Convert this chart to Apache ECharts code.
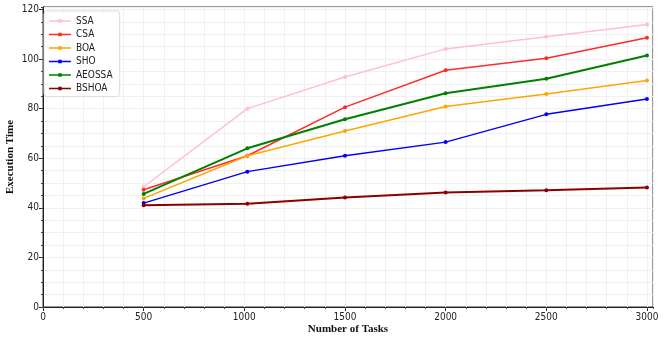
<!DOCTYPE html>
<html>
<head>
<meta charset="utf-8">
<script src="https://cdn.jsdelivr.net/npm/echarts@6/dist/echarts.min.js"></script>
<style>html,body{margin:0;padding:0;background:#fff}#c{width:665px;height:343px}</style>
</head>
<body>
<div id="c"></div>
<script>
var tasks = [500, 1015, 1500, 2000, 2500, 3000];
var SSA    = [48.5, 80.0, 92.8, 104.1, 109.0, 113.9];
var CSA    = [47.3, 61.0, 80.6, 95.5, 100.3, 108.6];
var BOA    = [43.8, 61.0, 71.0, 80.9, 85.9, 91.4];
var SHO    = [41.9, 54.6, 61.0, 66.5, 77.7, 83.9];
var AEOSSA = [45.6, 64.0, 75.7, 86.2, 92.1, 101.4];
var BSHOA  = [41.0, 41.6, 44.2, 46.2, 47.1, 48.2];
var names = ['SSA', 'CSA', 'BOA', 'SHO', 'AEOSSA', 'BSHOA'];
var values = [SSA, CSA, BOA, SHO, AEOSSA, BSHOA];
var colors = ['#ffc0cb', '#ff2a2a', '#ffa500', '#0000ff', '#008000', '#8b0000'];
var widths = [1.5, 1.5, 1.5, 1.5, 2, 2];

function pairs(v) { return tasks.map(function (t, i) { return [t, v[i]]; }); }

var chart = echarts.init(document.getElementById('c'), null, {renderer: 'canvas'});
var labelFont = {fontFamily: 'DejaVu Sans Condensed', fontSize: 10, color: '#222'};
var nameFont = {fontFamily: 'Liberation Serif', fontWeight: 'bold', fontSize: 11, color: '#111'};
var plain = function (v) { return String(v); };
var legendIcon = 'path://M0,4.2L22,4.2L22,5.8L0,5.8Z M9.3,3.3L12.7,3.3L12.7,6.7L9.3,6.7Z M0,3L0.01,3L0.01,3.01Z M0,7L0.01,7L0.01,7.01Z';

chart.setOption({
  animation: false,
  backgroundColor: '#fff',
  grid: {left: 43, right: 12, top: 7, bottom: 36, show: true, borderColor: '#333', borderWidth: 1,
         containLabel: false, outerBoundsMode: 'none'},
  legend: {
    orient: 'vertical', left: 44, top: 11,
    data: names.map(function (n) { return {name: n, icon: legendIcon}; }),
    itemWidth: 22, itemHeight: 4, itemGap: 3.5,
    padding: [5, 7, 3, 5],
    borderColor: '#ddd', borderWidth: 1, borderRadius: 3,
    backgroundColor: 'rgba(255,255,255,0.9)',
    textStyle: {fontFamily: 'DejaVu Sans Condensed', fontSize: 10, color: '#222', padding: [0, 0, 0, 0]}
  },
  xAxis: [{
    type: 'value', min: 0, max: 3030, interval: 500,
    name: 'Number of Tasks', nameLocation: 'middle', nameGap: 17, nameMoveOverlap: false, nameTextStyle: nameFont,
    axisLine: {show: true, lineStyle: {color: '#222'}},
    axisTick: {show: true, length: 4, lineStyle: {color: '#222'}},
    axisLabel: Object.assign({margin: 5, showMaxLabel: false, formatter: plain}, labelFont),
    splitLine: {show: true, lineStyle: {color: '#e6e6e6', width: 1}}
  }, {
    type: 'value', min: 0, max: 3030, interval: 100, position: 'bottom',
    axisLine: {show: false},
    axisTick: {show: true, length: 2, lineStyle: {color: '#444'}},
    axisLabel: {show: false},
    splitLine: {show: true, lineStyle: {color: '#f0f0f0', width: 1}}
  }],
  yAxis: [{
    type: 'value', min: 0, max: 121, interval: 20,
    name: 'Execution Time', nameLocation: 'middle', nameGap: 27, nameMoveOverlap: false, nameTextStyle: nameFont,
    axisLine: {show: true, lineStyle: {color: '#222'}},
    axisTick: {show: true, length: 4, lineStyle: {color: '#222'}},
    axisLabel: Object.assign({margin: 4, showMaxLabel: false, formatter: plain}, labelFont),
    splitLine: {show: true, lineStyle: {color: '#e6e6e6', width: 1}}
  }, {
    type: 'value', min: 0, max: 121, interval: 5, position: 'left',
    axisLine: {show: false},
    axisTick: {show: true, length: 2, lineStyle: {color: '#444'}},
    axisLabel: {show: false},
    splitLine: {show: true, lineStyle: {color: '#f0f0f0', width: 1}}
  }],
  series: names.map(function (n, i) {
    return {
      name: n, type: 'line', xAxisIndex: 0, yAxisIndex: 0,
      data: pairs(values[i]),
      symbol: 'circle', symbolSize: 4, showSymbol: true,
      z: 10 + i,
      lineStyle: {color: colors[i], width: widths[i]},
      itemStyle: {color: colors[i]}
    };
  })
});
</script>
</body>
</html>
